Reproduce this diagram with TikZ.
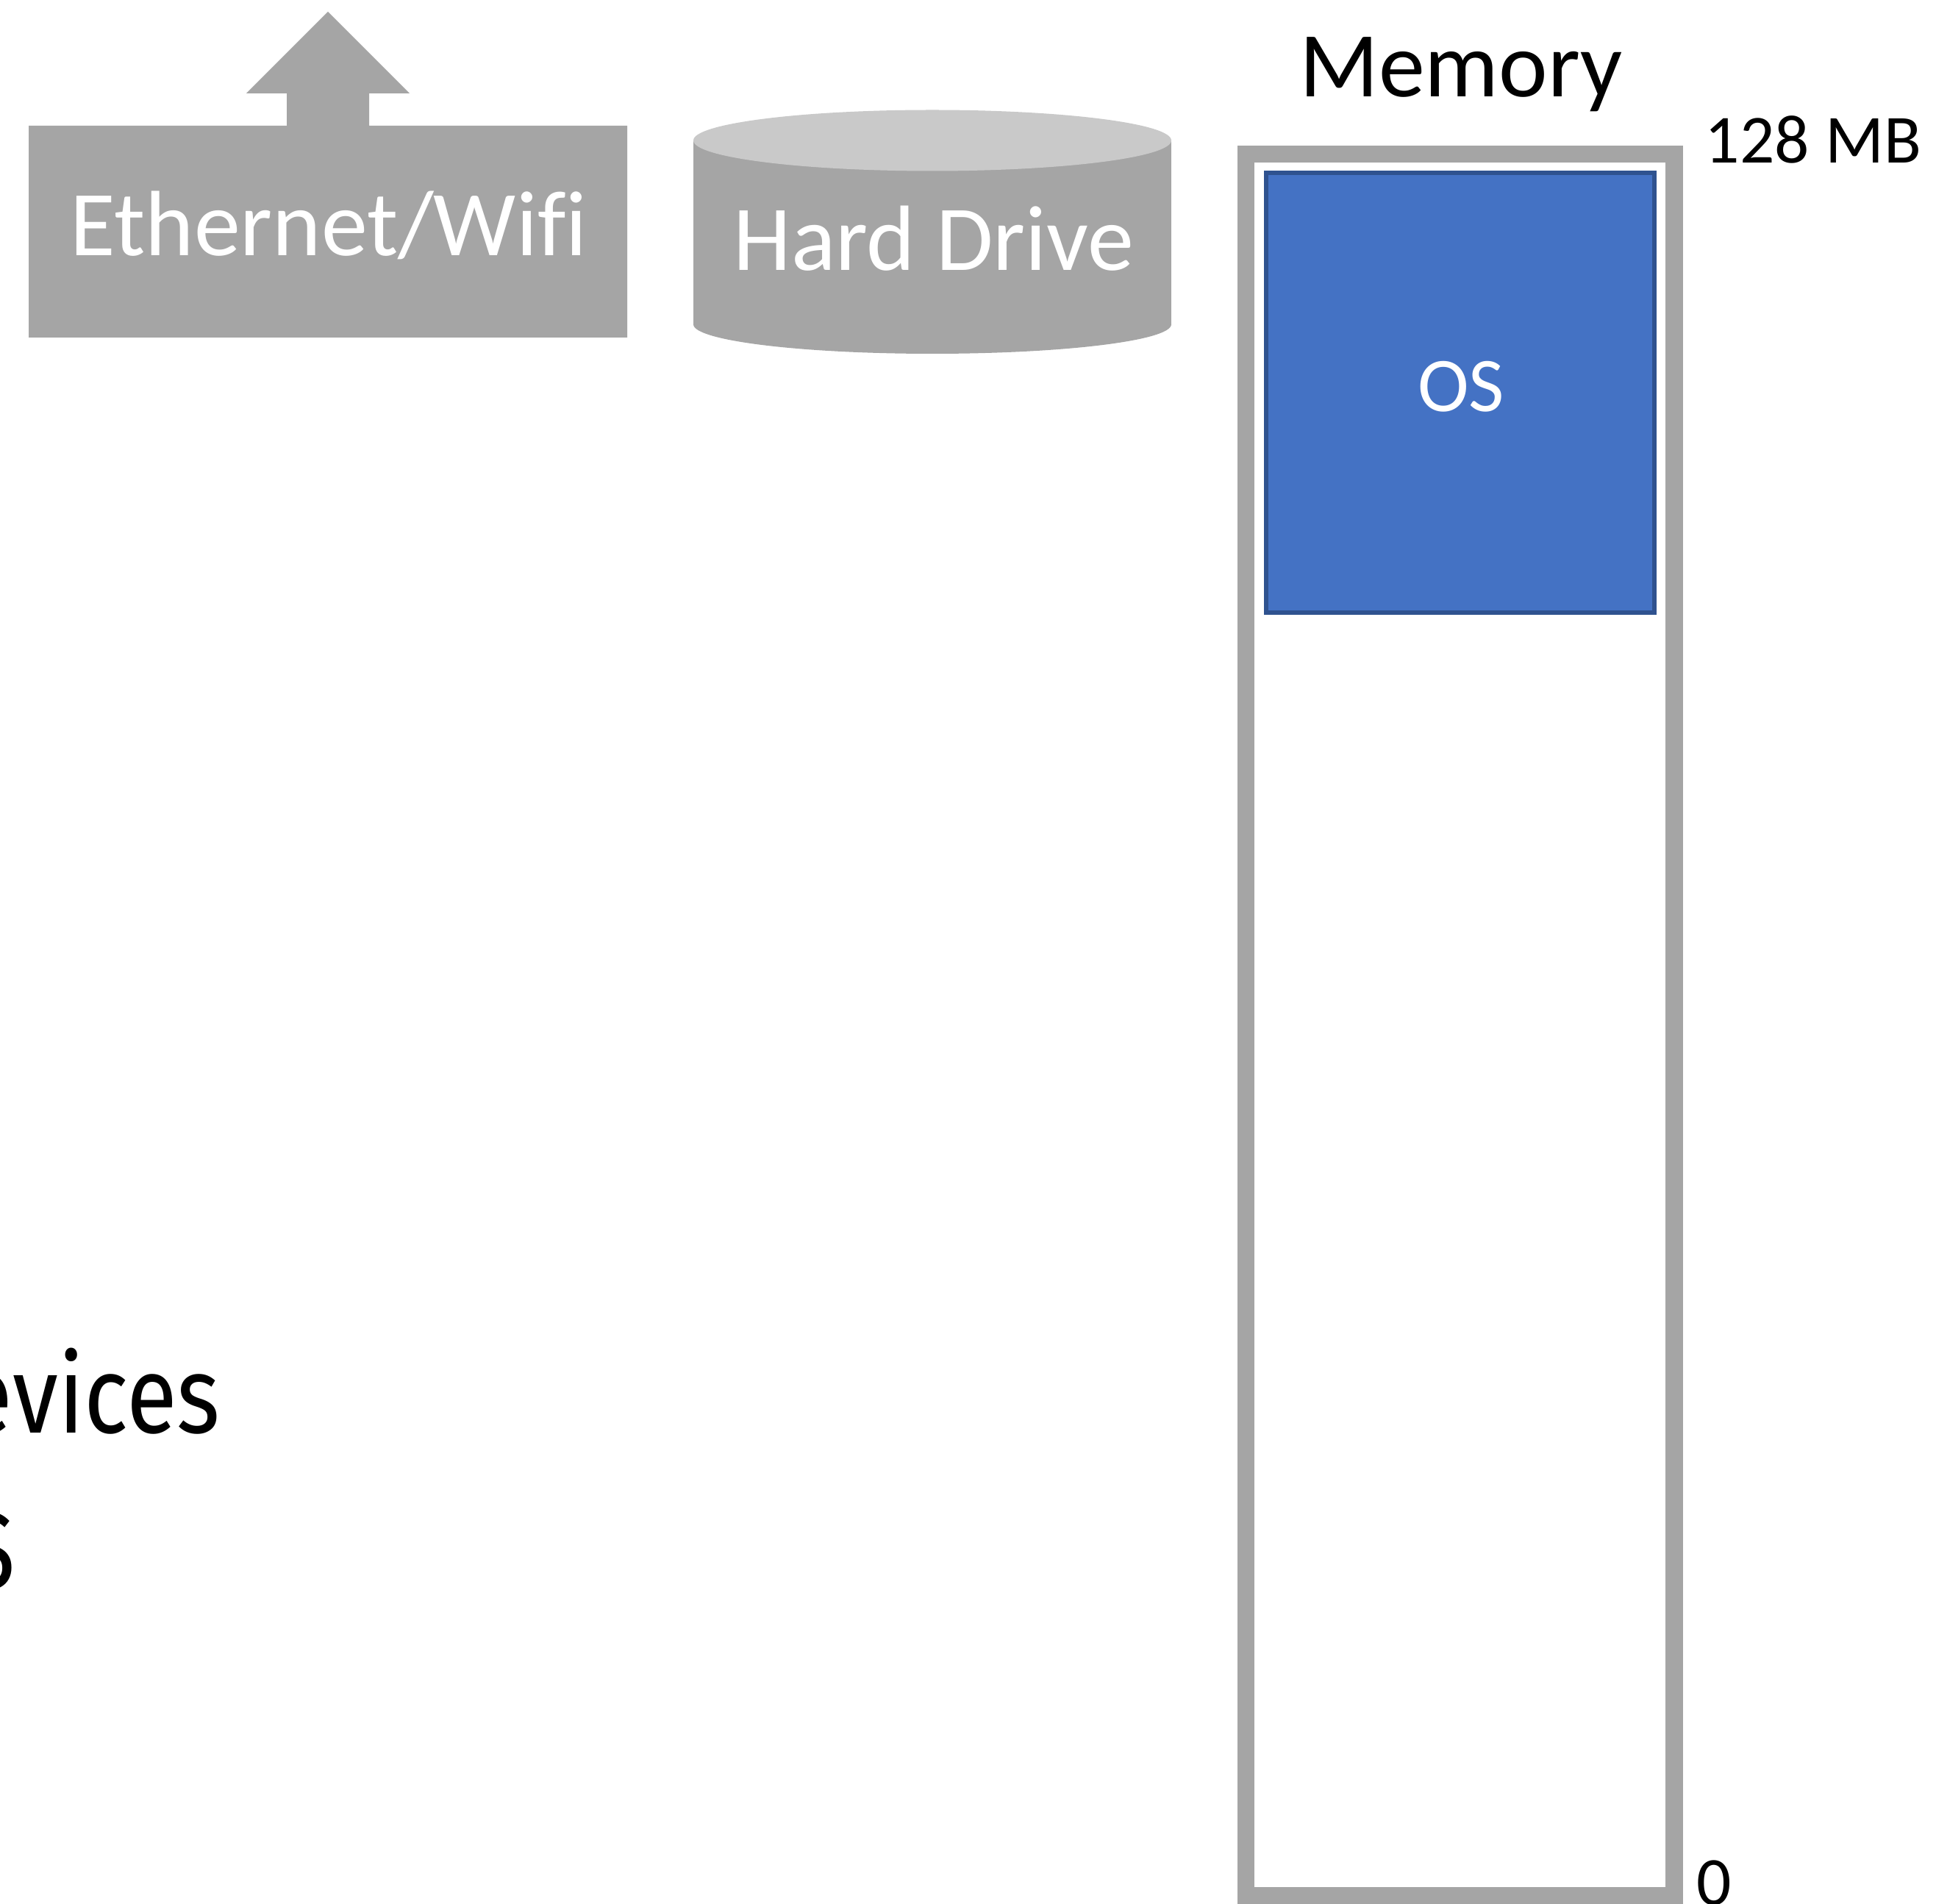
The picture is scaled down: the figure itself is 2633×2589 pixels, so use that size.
\documentclass[tikz,border=0pt]{standalone}
\usepackage{fontspec}
\setmainfont{Carlito}[Ligatures=NoCommon]
\newfontfamily\firafont{Fira Sans}
\definecolor{boxgray}{HTML}{A5A5A5}
\definecolor{lidgray}{HTML}{C9C9C9}
\definecolor{osblue}{HTML}{4472C4}
\definecolor{osedge}{HTML}{2F528F}
\begin{document}
\begin{tikzpicture}[x=0.01cm, y=-0.01cm,
  bigtext/.style={font=\fontsize{35.85}{43}\selectfont, inner sep=0pt, anchor=base},
  smalltext/.style={font=\fontsize{26.6}{32}\selectfont, inner sep=0pt, anchor=base west},
  slidetext/.style={font=\firafont\fontsize{42.1}{50}\selectfont, inner sep=0pt, anchor=base east, xscale=0.85}]
  \useasboundingbox (0,0) rectangle (2633,2589);

  % network device: box with an upward arrow on top
  \fill[boxgray] (39,459) -- (39,171) -- (390,171) -- (390,127) -- (335,127)
    -- (446,16) -- (557,127) -- (502,127) -- (502,171) -- (853,171) -- (853,459) -- cycle;
  \node[bigtext, text=white] (net) at (447,348) {Ethernet/Wifi};

  % hard drive cylinder
  \coordinate (hdtop) at (1268,191);
  \coordinate (hdbot) at (1268,441);
  \fill[boxgray] (943,191) rectangle (1593,441);
  \fill[boxgray] (hdbot) ellipse [x radius=325, y radius=40];
  \fill[lidgray] (hdtop) ellipse [x radius=325, y radius=41.5];
  \node[bigtext, text=white] (hd) at (1270,368) {Hard Drive};

  % memory column
  \node[bigtext] (memtitle) at (1987,132) {Memory};
  \draw[boxgray, line width=6.74pt] (1694.5,209.5) rectangle (2277.3,2577.5);
  \draw[osedge, fill=osblue, line width=1.56pt] (1722,235) rectangle (2250,833);
  \node[font=\fontsize{29.9}{36}\selectfont, inner sep=0pt, anchor=base, text=white] (os) at (1987,560) {OS};
  \node[smalltext] (top) at (2318,222) {128 MB};
  \node[smalltext] (bottom) at (2307,2590) {0};

  % slide text running in from the left
  \node[slidetext] (dev) at (300,1948) {evices};
  \node[slidetext] (last) at (22,2160) {S};
\end{tikzpicture}
\end{document}
